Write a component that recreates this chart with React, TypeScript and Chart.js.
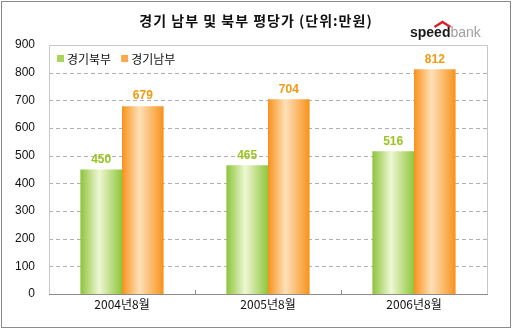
import React, { useEffect, useRef } from "react";
import { Chart, registerables } from "chart.js";

Chart.register(...registerables);

const categories = ["2004년8월", "2005년8월", "2006년8월"];
const northValues = [450, 465, 516];
const southValues = [679, 704, 812];
const seriesNames = ["경기북부", "경기남부"];
const yTicks = [0, 100, 200, 300, 400, 500, 600, 700, 800, 900];
const titleText = "경기 남부 및 북부 평당가 (단위:만원)";

const CAT_PCT = 0.57;

const gradStops = [
  [[0, "#8cc43a"], [0.45, "#eff7d4"], [1, "#8fc63c"]],
  [[0, "#f7921c"], [0.42, "#ffe0b8"], [1, "#f7921c"]],
];
const solidColors = ["#a9d45a", "#f9a94a"];
const labelColors = ["#99c51e", "#f29a12"];

function barFill(ctx: any) {
  const chart = ctx.chart;
  const xs = chart.scales?.x;
  if (!xs || ctx.dataIndex === undefined) return solidColors[ctx.datasetIndex];
  const catW = xs.width / categories.length;
  const groupW = catW * CAT_PCT;
  const barW = groupW / 2;
  const center = xs.getPixelForValue(ctx.dataIndex);
  const left = center - groupW / 2 + ctx.datasetIndex * barW;
  if (!isFinite(left) || !isFinite(barW) || barW <= 0) return solidColors[ctx.datasetIndex];
  const g = chart.ctx.createLinearGradient(left, 0, left + barW, 0);
  for (const [o, c] of gradStops[ctx.datasetIndex]) g.addColorStop(o as number, c as string);
  return g;
}

const decorPlugin = {
  id: "decor",
  beforeDraw(chart: any) {
    const { ctx, width, height } = chart;
    ctx.save();
    ctx.fillStyle = "#ffffff";
    ctx.fillRect(0, 0, width, height);
    ctx.strokeStyle = "#8a8a8a";
    ctx.lineWidth = 1;
    ctx.strokeRect(1.5, 1.5, width - 3, height - 3);
    ctx.restore();
  },
  beforeDatasetsDraw(chart: any) {
    const { ctx, chartArea: a } = chart;
    const ys = chart.scales.y;
    ctx.save();
    ctx.strokeStyle = "#b0b0b0";
    ctx.lineWidth = 1;
    ctx.setLineDash([4, 3]);
    yTicks.forEach((v) => {
      if (v <= 0 || v >= 900) return;
      const y = Math.round(ys.getPixelForValue(v)) + 0.5;
      ctx.beginPath();
      ctx.moveTo(a.left, y);
      ctx.lineTo(a.right, y);
      ctx.stroke();
    });
    ctx.restore();
  },
  afterDraw(chart: any) {
    const { ctx, chartArea: a } = chart;
    ctx.save();
    // plot border
    ctx.strokeStyle = "#c8c8c8";
    ctx.lineWidth = 1;
    ctx.beginPath();
    ctx.moveTo(Math.round(a.left) + 0.5, Math.round(a.bottom));
    ctx.lineTo(Math.round(a.left) + 0.5, Math.round(a.top) + 0.5);
    ctx.lineTo(Math.round(a.right) + 0.5, Math.round(a.top) + 0.5);
    ctx.lineTo(Math.round(a.right) + 0.5, Math.round(a.bottom));
    ctx.stroke();
    ctx.strokeStyle = "#8c8c8c";
    ctx.beginPath();
    ctx.moveTo(Math.round(a.left), Math.round(a.bottom) + 0.5);
    ctx.lineTo(Math.round(a.right) + 1, Math.round(a.bottom) + 0.5);
    ctx.stroke();
    // category ticks
    const xs = chart.scales.x;
    const catW = xs.width / categories.length;
    for (let i = 1; i < categories.length; i++) {
      const x = Math.round(a.left + catW * i) + 0.5;
      ctx.beginPath();
      ctx.moveTo(x, a.bottom - 4);
      ctx.lineTo(x, a.bottom);
      ctx.stroke();
    }

    // title
    ctx.fillStyle = "#111111";
    ctx.font = "bold 14px 'Noto Sans CJK KR'";
    (ctx as any).letterSpacing = "1px";
    ctx.textAlign = "center";
    ctx.textBaseline = "middle";
    ctx.fillText(titleText, 256, 21);
    (ctx as any).letterSpacing = "0px";

    // logo
    ctx.textBaseline = "alphabetic";
    ctx.textAlign = "left";
    ctx.font = "bold 14px 'Liberation Sans'";
    const sp = "speed";
    const spW = ctx.measureText(sp).width;
    const lx = 410;
    ctx.fillStyle = "#1a1a1a";
    ctx.fillText(sp, lx, 37);
    ctx.font = "14px 'Liberation Sans'";
    ctx.fillStyle = "#a0a0a0";
    ctx.fillText("bank", lx + spW, 37);
    ctx.strokeStyle = "#d8232a";
    ctx.lineWidth = 2.5;
    ctx.beginPath();
    ctx.moveTo(lx + spW - 16, 27);
    ctx.lineTo(lx + spW - 8, 22);
    ctx.lineTo(lx + spW, 27);
    ctx.stroke();

    // legend
    ctx.font = "12px 'Noto Sans CJK KR'";
    ctx.textBaseline = "middle";
    let x = 57;
    const y = 59;
    seriesNames.forEach((name, i) => {
      ctx.fillStyle = solidColors[i];
      ctx.fillRect(x, y - 4, 7, 7);
      ctx.fillStyle = "#111111";
      ctx.fillText(name, x + 10, y);
      x += 10 + ctx.measureText(name).width + 10;
    });

    // value labels
    ctx.font = "bold 12px 'Liberation Sans'";
    ctx.textAlign = "center";
    ctx.textBaseline = "bottom";
    chart.data.datasets.forEach((ds: any, di: number) => {
      const meta = chart.getDatasetMeta(di);
      meta.data.forEach((bar: any, i: number) => {
        ctx.fillStyle = labelColors[di];
        ctx.fillText(String(ds.data[i]), bar.x, bar.y - 4);
      });
    });
    ctx.restore();
  },
};

export default function App() {
  const ref = useRef<HTMLCanvasElement>(null);
  useEffect(() => {
    document.body.style.margin = "0";
    const canvas = ref.current!;
    const chart = new Chart(canvas, {
      type: "bar",
      data: {
        labels: categories,
        datasets: [
          { label: seriesNames[0], data: northValues, backgroundColor: barFill, borderWidth: 0 },
          { label: seriesNames[1], data: southValues, backgroundColor: barFill, borderWidth: 0 },
        ],
      },
      options: {
        responsive: false,
        animation: false,
        layout: { padding: { left: 0, right: 25, top: 45, bottom: 0 } },
        plugins: { legend: { display: false }, tooltip: { enabled: false } },
        datasets: { bar: { categoryPercentage: CAT_PCT, barPercentage: 1 } },
        scales: {
          x: {
            grid: { display: false, drawTicks: false },
            border: { display: false },
            afterFit: (s: any) => {
              s.height = 35;
            },
            ticks: { color: "#111", font: { family: "'Noto Sans CJK KR'", size: 12 }, padding: 3 },
          },
          y: {
            min: 0,
            max: 900,
            afterBuildTicks: (s: any) => {
              s.ticks = yTicks.map((v) => ({ value: v }));
            },
            afterFit: (s: any) => {
              s.width = 49;
            },
            grid: { display: false, drawTicks: false },
            border: { display: false },
            ticks: { color: "#111", font: { family: "'Liberation Sans'", size: 12 }, padding: 14 },
          },
        },
      },
      plugins: [decorPlugin],
    });
    return () => chart.destroy();
  }, []);
  return <canvas ref={ref} width={512} height={329} style={{ display: "block" }} />;
}
